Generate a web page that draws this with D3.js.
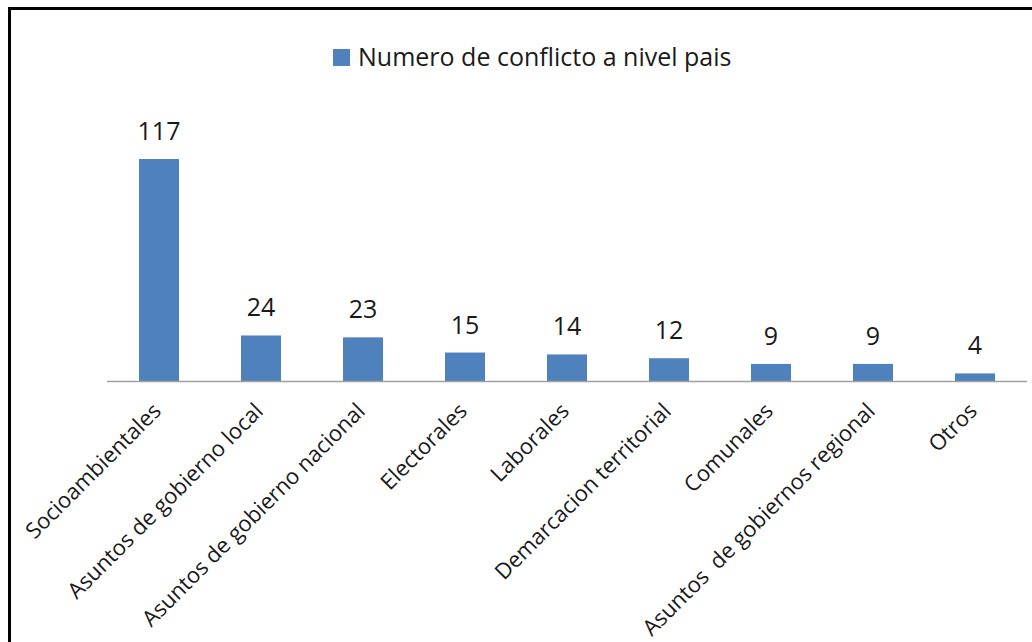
<!DOCTYPE html>
<html>
<head>
<meta charset="utf-8">
<script src="https://cdn.jsdelivr.net/npm/d3@7/dist/d3.min.js"></script>
<style>
  html, body { margin: 0; padding: 0; background: #fff; }
  svg { display: block; }
</style>
</head>
<body>
<svg id="chart"></svg>
<script>
(function () {
  var categories = [
    "Socioambientales",
    "Asuntos de gobierno local",
    "Asuntos de gobierno nacional",
    "Electorales",
    "Laborales",
    "Demarcacion territorial",
    "Comunales",
    "Asuntos  de gobiernos regional",
    "Otros"
  ];
  var values = [117, 24, 23, 15, 14, 12, 9, 9, 4];
  var seriesName = "Numero de conflicto a nivel pais";

  var W = 1032, H = 642;
  var font = "'Open Sans', Lato, sans-serif";
  var barColor = "#4f81bd";

  var svg = d3.select("#chart").attr("width", W).attr("height", H);

  // frame (only left and top edges visible in the crop)
  svg.append("path")
    .attr("d", "M9.5 642 L9.5 8.5 L1032 8.5")
    .attr("fill", "none")
    .attr("stroke", "#000")
    .attr("stroke-width", 3);

  var x = d3.scaleBand()
    .domain(categories)
    .range([108, 1026])
    .paddingInner(0.608)
    .paddingOuter(0.304);

  var y = d3.scaleLinear()
    .domain([0, 117])
    .range([381, 159]);

  // bars
  svg.append("g")
    .selectAll("rect")
    .data(values)
    .join("rect")
    .attr("x", function (d, i) { return x(categories[i]); })
    .attr("y", function (d) { return y(d); })
    .attr("width", x.bandwidth())
    .attr("height", function (d) { return y(0) - y(d); })
    .attr("fill", barColor);

  // category axis line
  svg.append("line")
    .attr("x1", 107).attr("x2", 1027)
    .attr("y1", 381.5).attr("y2", 381.5)
    .attr("stroke", "#a0a0a0")
    .attr("stroke-width", 1.5);

  // value labels
  svg.append("g")
    .selectAll("text")
    .data(values)
    .join("text")
    .attr("x", function (d, i) { return x(categories[i]) + x.bandwidth() / 2; })
    .attr("y", function (d) { return y(d) - 19; })
    .attr("text-anchor", "middle")
    .attr("fill", "#1a1a1a")
    .style("font-family", font)
    .style("font-size", "25px")
    .text(function (d) { return d; });

  // rotated category labels
  svg.append("g")
    .selectAll("text")
    .data(categories)
    .join("text")
    .attr("transform", function (d) {
      var cx = x(d) + x.bandwidth() / 2 - 2;
      return "translate(" + cx + ",407) rotate(-45)";
    })
    .attr("text-anchor", "end")
    .attr("dy", "0.35em")
    .attr("fill", "#1a1a1a")
    .style("font-family", font)
    .style("font-size", "22px")
    .style("white-space", "pre")
    .text(function (d) { return d; });

  // legend
  var lg = svg.append("g");
  lg.append("rect")
    .attr("x", 333).attr("y", 49)
    .attr("width", 17).attr("height", 17)
    .attr("fill", barColor);
  lg.append("text")
    .attr("x", 358).attr("y", 66)
    .attr("fill", "#1a1a1a")
    .style("font-family", font)
    .style("font-size", "25px")
    .text(seriesName);
})();
</script>
</body>
</html>
